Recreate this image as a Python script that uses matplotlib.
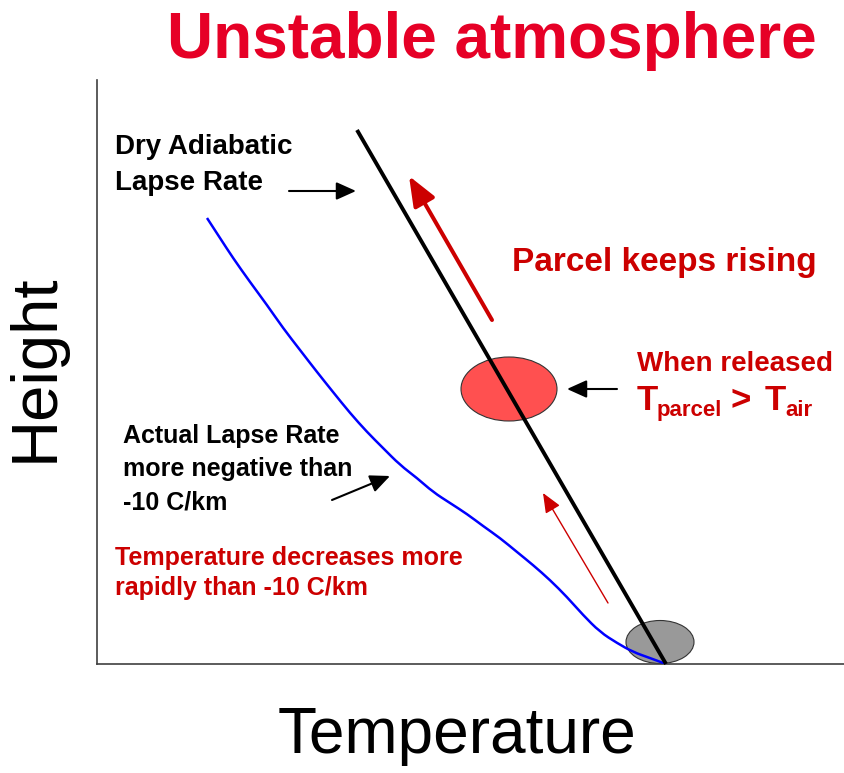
import matplotlib.pyplot as plt
from matplotlib.patches import Ellipse, PathPatch
from matplotlib.path import Path

W, H = 844, 773

# environment (actual) sounding: temperature vs height, schematic units
env_temp = [110, 123, 136, 153, 170, 186, 203, 220, 236, 253, 270, 286, 303, 320, 336,
            353, 370, 386, 403, 420, 436, 453, 470, 486, 503, 520, 536, 553, 569]
env_height = [446, 426, 406, 382, 359, 336, 314, 292, 272, 251, 232, 216, 199, 186, 172,
              161, 150, 138, 126, 112, 99, 84, 67, 49, 32, 21, 12, 6, 0]

# dry adiabat through the surface parcel
dry_temp = [260, 569]
dry_height = [534, 0]

# parcels: (temp, height, width, height)
parcel_released = (412, 275, 96, 64)
parcel_surface = (563, 22, 68, 43)

# arrows: (tail, tip)
rise_big = ((395, 344), (312, 488))
rise_small = ((511, 61), (446, 171))
ptr_dry = ((192, 473), (259, 473))
ptr_parcel = ((520, 275), (470, 275))
ptr_actual = ((235, 164), (293, 188))

RED = '#CC0000'
TITLE_RED = '#E60026'
FONT = ['Liberation Sans', 'DejaVu Sans']


def fx(x, y):
    # pixel position -> figure fraction
    return x / W, 1 - y / H


fig = plt.figure(figsize=(W / 100, H / 100), dpi=100)
ax = fig.add_axes([97 / W, (H - 664) / H, (W - 97) / W, (664 - 80) / H])
ax.set_xlim(0, W - 97)
ax.set_ylim(0, 664 - 80)
ax.set_xticks([])
ax.set_yticks([])
for s in ['top', 'right']:
    ax.spines[s].set_visible(False)
for s in ['left', 'bottom']:
    ax.spines[s].set_color('#404040')
    ax.spines[s].set_linewidth(1.2)

# parcels
c = parcel_released
ax.add_patch(Ellipse((c[0], c[1]), c[2], c[3], facecolor='#FF5050',
                     edgecolor='#333333', lw=0.8, zorder=1))
c = parcel_surface
ax.add_patch(Ellipse((c[0], c[1]), c[2], c[3], facecolor='#999999',
                     edgecolor='#333333', lw=0.8, zorder=1))

# sounding drawn as a smooth quadratic path with the read points as controls
pts = list(zip(env_temp, env_height))
verts = [pts[0]]
codes = [Path.MOVETO]
for i in range(1, len(pts) - 1):
    mid = ((pts[i][0] + pts[i + 1][0]) / 2, (pts[i][1] + pts[i + 1][1]) / 2)
    if i == len(pts) - 2:
        mid = pts[-1]
    verts += [pts[i], mid]
    codes += [Path.CURVE3, Path.CURVE3]
ax.add_patch(PathPatch(Path(verts, codes), facecolor='none', edgecolor='#0000FF',
                       lw=1.8, zorder=3))

ax.plot(dry_temp, dry_height, color='black', lw=2.8, zorder=4,
        solid_capstyle='butt', clip_on=False)


def arrow(a, color, lw, scale, hl, hw):
    ax.annotate('', xy=a[1], xytext=a[0], zorder=5,
                arrowprops=dict(arrowstyle='-|>,head_length=%s,head_width=%s' % (hl, hw),
                                mutation_scale=scale, color=color, lw=lw,
                                shrinkA=0, shrinkB=0))


arrow(rise_big, RED, 2.9, 18, 1.0, 0.4)
arrow(rise_small, RED, 1.0, 12, 1.0, 0.42)
arrow(ptr_dry, 'black', 1.5, 12, 1.0, 0.45)
arrow(ptr_parcel, 'black', 1.5, 12, 1.0, 0.45)
arrow(ptr_actual, 'black', 1.5, 12, 1.0, 0.45)


def label(s, x, y, size, color='black', weight='bold', **kw):
    fig.text(*fx(x, y), s, fontsize=size, color=color, fontweight=weight,
             family=FONT, va='baseline', **kw)


label('Unstable atmosphere', 492, 58, 46, TITLE_RED, ha='center')
label('Temperature', 457, 753, 46, weight='normal', ha='center')
fig.text(*fx(36, 368), 'Height', fontsize=47, family=FONT, rotation=90,
         ha='center', va='center')

for i, s in enumerate(['Dry Adiabatic', 'Lapse Rate']):
    label(s, 115, 154 + 36 * i, 20)
label('Parcel keeps rising', 512, 271, 24, RED)
label('When released', 637, 371, 20, RED)
label('T', 637, 410, 25, RED)
label('parcel', 657, 416, 16, RED)
label('>', 731, 410, 25, RED)
label('T', 765, 410, 25, RED)
label('air', 785, 416, 16, RED)
for i, s in enumerate(['Actual Lapse Rate', 'more negative than', '-10 C/km']):
    label(s, 123, 443 + 33 * i, 18)
for i, s in enumerate(['Temperature decreases more', 'rapidly than -10 C/km']):
    label(s, 115, 565 + 30 * i, 18, RED)

fig.savefig('out.png', dpi=100)
